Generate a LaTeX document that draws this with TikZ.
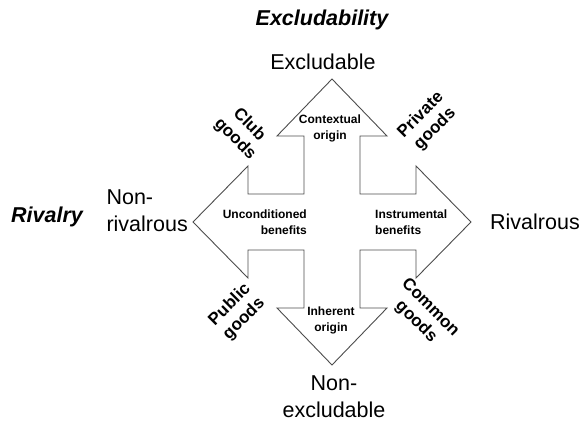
\documentclass[tikz,border=0pt]{standalone}
\usepackage{fontspec}
\setmainfont{Liberation Sans}
\usetikzlibrary{positioning}

\begin{document}
\begin{tikzpicture}[
        x=1pt, y=1pt,             % one unit = one pixel of the layout
        cross/.style={            % outline of the four arrows
            draw=black!70,
            line width=0.9pt,
            line join=miter
        },
        axis/.style={             % names of the two dimensions
            font=\fontsize{21.5}{24}\selectfont\bfseries\itshape,
            inner sep=0pt
        },
        pole/.style={             % ends of each dimension
            font=\fontsize{21.5}{27}\selectfont,
            inner sep=0pt
        },
        origin/.style={           % texts inside the arrows
            font=\fontsize{12}{16}\selectfont\bfseries,
            inner sep=0pt
        },
        goods/.style={            % the four kinds of goods
            font=\fontsize{17}{20}\selectfont\bfseries,
            align=center,
            inner sep=0pt
        }
    ]

    \useasboundingbox (-332,-201) rectangle (247,222);

    % --- The cross of arrows ---
    \draw[cross] (-28,28) -- (-28,86) -- (-55,86) -- (0,143) -- (55,86) -- (28,86)
        -- (28,28) -- (84,28) -- (84,56) -- (139,0) -- (84,-56) -- (84,-28)
        -- (28,-28) -- (28,-86) -- (55,-86) -- (0,-143) -- (-55,-86) -- (-28,-86)
        -- (-28,-28) -- (-84,-28) -- (-84,-56) -- (-139,0) -- (-84,56) -- (-84,28)
        -- cycle;

    % --- Dimensions ---

    % 1. Excludability (top)
    \node[axis] (Excl) at (-10,202) {Excludability};

    % 2. Rivalry (left)
    \node[axis] (Riv) at (-285,5) {Rivalry};

    % --- Poles ---

    % 1. Excludable (above the upper arrow)
    \node[pole] (Up) at (-9,160) {Excludable};

    % 2. Non-excludable (below the lower arrow)
    \node[pole, align=center] (Down) at (2,-175) {Non-\\excludable};

    % 3. Non-rivalrous (left of the left arrow)
    \node[pole, align=left, anchor=east] (Left) at (-144,11) {Non-\\rivalrous};

    % 4. Rivalrous (right of the right arrow)
    \node[pole, anchor=west] (Right) at (158,0) {Rivalrous};

    % --- Texts inside the arrows ---
    \node[origin, align=center] (Ctx) at (-2,94) {Contextual\\origin};
    \node[origin, align=center] (Inh) at (-1,-98) {Inherent\\origin};
    \node[origin, align=right, anchor=east] (Unc) at (-25,0) {Unconditioned\\benefits};
    \node[origin, align=left, anchor=west] (Ins) at (43,0) {Instrumental\\benefits};

    % --- Goods in the four corners ---
    \node[goods, rotate=-45] (Club) at (-90,90) {Club\\goods};
    \node[goods, rotate=45] (Priv) at (96,100) {Private\\goods};
    \node[goods, rotate=45] (Pub) at (-95,-90) {Public\\goods};
    \node[goods, rotate=-45] (Comm) at (91,-93) {Common\\goods};

\end{tikzpicture}
\end{document}
